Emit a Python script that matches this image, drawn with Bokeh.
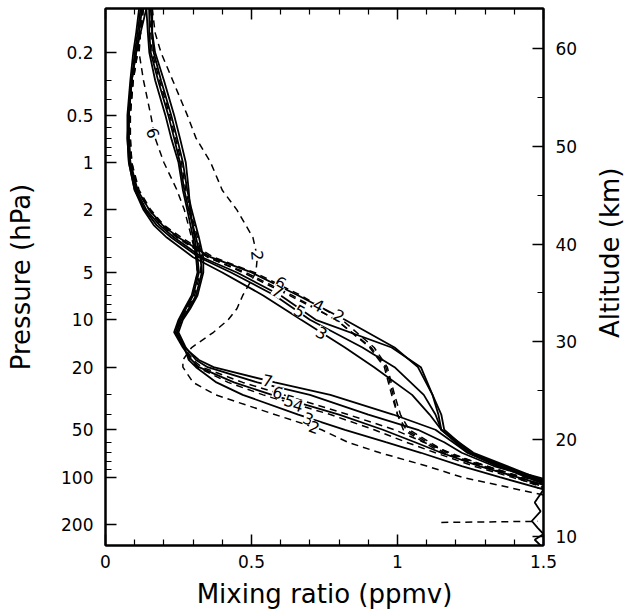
import math
from bokeh.plotting import figure
from bokeh.layouts import row
from bokeh.models import Range1d, LinearScale, LinearAxis, FixedTicker, CustomJSTickFormatter
from bokeh.core.properties import value
from bokeh.embed import file_html
from bokeh.resources import INLINE

# ---------------- data (mixing ratio in ppmv vs pressure in hPa) ----------------
H_KM = 7.0            # scale height used for the altitude axis
P0 = 1000.0
P_TOP, P_BOT = 0.105, 272.0
X_MIN, X_MAX = 0.0, 1.5

# group A: minimum near 1 hPa, steep rise between 2 and 20 hPa
P_A = [0.105, 0.15, 0.2, 0.3, 0.5, 0.7, 1.0, 1.5, 2.0, 2.5, 3.0, 4.0, 5.0, 7.0,
       10, 15, 20, 30, 40, 50, 70, 100, 150]
A1 = [0.115, 0.105, 0.095, 0.085, 0.075, 0.075, 0.08, 0.10, 0.135, 0.175, 0.225, 0.32, 0.43, 0.58,
      0.70, 0.88, 0.99, 1.09, 1.13, 1.15, 1.25, 1.46, 1.71]
A2 = [0.13, 0.12, 0.11, 0.095, 0.085, 0.085, 0.09, 0.11, 0.15, 0.19, 0.245, 0.35, 0.47, 0.63,
      0.79, 0.905, 0.955, 0.98, 1.00, 1.02, 1.15, 1.40, 1.66]
A3 = [0.14, 0.12, 0.105, 0.09, 0.08, 0.075, 0.08, 0.10, 0.13, 0.165, 0.21, 0.30, 0.40, 0.54,
      0.67, 0.82, 0.92, 1.05, 1.11, 1.15, 1.26, 1.47, 1.72]
A4 = [0.125, 0.115, 0.105, 0.09, 0.08, 0.08, 0.085, 0.11, 0.15, 0.195, 0.25, 0.35, 0.48, 0.64,
      0.79, 0.91, 0.96, 0.985, 1.00, 1.03, 1.16, 1.41, 1.67]
A5 = [0.125, 0.115, 0.105, 0.09, 0.08, 0.08, 0.085, 0.105, 0.14, 0.185, 0.235, 0.33, 0.45, 0.60,
      0.72, 0.98, 1.08, 1.12, 1.14, 1.15, 1.24, 1.44, 1.70]
A6 = [0.13, 0.12, 0.11, 0.095, 0.085, 0.085, 0.09, 0.115, 0.155, 0.20, 0.26, 0.37, 0.51, 0.67,
      0.81, 0.92, 0.965, 0.99, 1.01, 1.04, 1.17, 1.42, 1.68]
A7 = [0.12, 0.11, 0.10, 0.09, 0.08, 0.08, 0.085, 0.11, 0.15, 0.195, 0.25, 0.36, 0.50, 0.66,
      0.82, 0.99, 1.07, 1.12, 1.15, 1.16, 1.25, 1.45, 1.70]

# group B: minimum near 12 hPa, rise between 15 and 100 hPa
P_B = [0.105, 0.15, 0.2, 0.3, 0.5, 0.7, 1.0, 1.5, 2.0, 3.0, 4.0, 5.0, 7.0, 8.5, 10, 12,
       15, 18, 20, 25, 30, 40, 50, 60, 70, 85, 100, 130, 180]
B1 = [0.16, 0.16, 0.165, 0.19, 0.225, 0.245, 0.265, 0.28, 0.295, 0.32, 0.335, 0.335, 0.315, 0.29, 0.265, 0.25,
      0.275, 0.31, 0.35, 0.52, 0.70, 0.90, 1.07, 1.16, 1.22, 1.33, 1.46, 1.68, 1.9]
B2 = [0.16, 0.17, 0.19, 0.23, 0.28, 0.31, 0.36, 0.40, 0.45, 0.505, 0.52, 0.515, 0.47, 0.45, 0.42, 0.37,
      0.295, 0.265, 0.265, 0.30, 0.377, 0.58, 0.74, 0.83, 0.94, 1.10, 1.22, 1.5, 1.8]
B3 = [0.155, 0.16, 0.17, 0.20, 0.235, 0.255, 0.275, 0.285, 0.29, 0.305, 0.315, 0.32, 0.30, 0.275, 0.255, 0.24,
      0.27, 0.285, 0.31, 0.38, 0.47, 0.66, 0.82, 0.96, 1.08, 1.22, 1.35, 1.57, 1.85]
B4 = [0.15, 0.155, 0.16, 0.185, 0.22, 0.24, 0.26, 0.275, 0.29, 0.315, 0.33, 0.325, 0.305, 0.28, 0.255, 0.24,
      0.27, 0.29, 0.315, 0.42, 0.54, 0.77, 0.92, 1.03, 1.13, 1.26, 1.39, 1.6, 1.9]
B5 = [0.14, 0.145, 0.15, 0.17, 0.205, 0.225, 0.25, 0.265, 0.28, 0.30, 0.31, 0.315, 0.295, 0.27, 0.25, 0.235,
      0.265, 0.295, 0.32, 0.44, 0.57, 0.80, 0.95, 1.06, 1.15, 1.28, 1.41, 1.62, 1.9]
B6 = [0.125, 0.12, 0.115, 0.13, 0.155, 0.17, 0.20, 0.245, 0.27, 0.295, 0.31, 0.315, 0.30, 0.275, 0.255, 0.24,
      0.27, 0.30, 0.33, 0.47, 0.61, 0.83, 0.99, 1.09, 1.18, 1.30, 1.43, 1.65, 1.9]
B7 = [0.15, 0.15, 0.155, 0.18, 0.215, 0.235, 0.255, 0.27, 0.285, 0.31, 0.325, 0.33, 0.31, 0.285, 0.26, 0.245,
      0.27, 0.32, 0.37, 0.58, 0.77, 0.985, 1.13, 1.19, 1.24, 1.34, 1.48, 1.7, 1.9]

# near-surface fragments
EXTRA_X = [1.50, 1.47, 1.49, 1.46, 1.48, 1.50, 1.47, 1.49]
EXTRA_P = [120, 145, 165, 190, 210, 230, 250, 272]
FLAT_X = [1.15, 1.48]
FLAT_P = [194, 191]

# curve labels
LBL_TEXT = ["6", "7", "4", "2", "5", "3", "7", "6", "5", "4", "3", "2", "6", "2"]
LBL_X = [0.60, 0.59, 0.73, 0.80, 0.665, 0.74, 0.555, 0.59, 0.63, 0.66, 0.695, 0.715, 0.163, 0.52]
LBL_P = [5.8, 6.6, 8.1, 9.4, 8.8, 12.1, 24.3, 29.0, 32.7, 35.0, 42.4, 48.0, 0.65, 3.9]
LBL_ANGLE = [-30, -30, -28, -28, -30, -30, -13, -17, -18, -18, -20, -20, -72, -85]

X_TICKS = [0, 0.5, 1, 1.5]
X_MINOR = [0.1, 0.2, 0.3, 0.4, 0.6, 0.7, 0.8, 0.9, 1.1, 1.2, 1.3, 1.4]
P_TICKS = [0.2, 0.5, 1, 2, 5, 10, 20, 50, 100, 200]
P_MINOR = [0.3, 0.4, 0.6, 0.7, 0.8, 0.9, 3, 4, 6, 7, 8, 9, 30, 40, 60, 70, 80, 90]
Z_TICKS = [10, 20, 30, 40, 50, 60]
Z_MINOR = [15, 25, 35, 45, 55]

RIGHT_TITLE = "Altitude (km)"


def alt(p):
    return H_KM * math.log(P0 / p)


FONT = "DejaVu Sans"
MAIN_W, TITLE_W, H = 590, 34, 611

p = figure(width=MAIN_W, height=H, y_axis_type="log",
           x_range=Range1d(X_MIN, X_MAX), y_range=Range1d(P_BOT, P_TOP),
           output_backend="svg", toolbar_location=None,
           min_border_left=105, min_border_right=47, min_border_top=8, min_border_bottom=66)
p.extra_y_ranges = {"alt": Range1d(alt(P_BOT), alt(P_TOP))}
p.extra_y_scales = {"alt": LinearScale()}
p.xgrid.visible = False
p.ygrid.visible = False
p.outline_line_color = "black"
p.outline_line_width = 2
p.background_fill_color = "white"
p.border_fill_color = "white"

solid = dict(line_color="black", line_width=1.8)
dashed = dict(line_color="black", line_width=1.5, line_dash="7 5")

for xs in (A1, A3, A5, A7):
    p.line(xs, P_A, **solid)
for xs in (A2, A4, A6):
    p.line(xs, P_A, **dashed)
for xs in (B1, B3, B5, B7):
    p.line(xs, P_B, **solid)
for xs in (B2, B4, B6):
    p.line(xs, P_B, **dashed)
p.line(EXTRA_X, EXTRA_P, **solid)
p.line(FLAT_X, FLAT_P, **dashed)

p.text(x=LBL_X, y=LBL_P, text=LBL_TEXT, angle=LBL_ANGLE, angle_units="deg",
       text_font=value(FONT), text_font_size=value("16px"), text_color="black",
       text_align="center", text_baseline="middle",
       background_fill_color="white")

num_fmt = CustomJSTickFormatter(code="return String(tick);")
blank_fmt = CustomJSTickFormatter(code="return '';")


def style(ax, label_px="17px"):
    ax.axis_line_width = 2
    ax.axis_line_color = "black"
    ax.major_tick_in = 11
    ax.major_tick_out = 0
    ax.minor_tick_in = 6
    ax.minor_tick_out = 0
    ax.major_tick_line_width = 1.5
    ax.minor_tick_line_width = 1.2
    ax.major_label_text_font = FONT
    ax.major_label_text_font_size = label_px
    ax.major_label_text_color = "black"
    ax.axis_label_text_font = FONT
    ax.axis_label_text_font_size = "26px"
    ax.axis_label_text_font_style = "normal"
    ax.axis_label_text_color = "black"


# left (pressure)
ya = p.yaxis[0]
ya.ticker = FixedTicker(ticks=P_TICKS, minor_ticks=P_MINOR)
ya.formatter = num_fmt
ya.axis_label = "Pressure (hPa)"
style(ya)
ya.major_label_standoff = 12
ya.axis_label_standoff = 22

# bottom (mixing ratio)
xa = p.xaxis[0]
xa.ticker = FixedTicker(ticks=X_TICKS, minor_ticks=X_MINOR)
xa.formatter = num_fmt
xa.axis_label = "Mixing ratio (ppmv)"
style(xa)
xa.major_label_standoff = 9
xa.axis_label_standoff = 8

# top (ticks only)
top = LinearAxis(ticker=FixedTicker(ticks=X_TICKS, minor_ticks=X_MINOR), formatter=blank_fmt)
style(top, "0px")
top.major_label_standoff = 0
p.add_layout(top, "above")

# right (altitude) ticks
ra = LinearAxis(y_range_name="alt", ticker=FixedTicker(ticks=Z_TICKS, minor_ticks=Z_MINOR))
style(ra)
ra.major_label_standoff = 12
p.add_layout(ra, "right")

# narrow strip carrying the right-hand title, reading bottom-to-top like the reference
t = figure(width=TITLE_W, height=H, x_range=Range1d(0, 1), y_range=Range1d(0, 1),
           output_backend="svg", toolbar_location=None,
           x_axis_location=None, y_axis_location=None,
           min_border_left=0, min_border_right=0, min_border_top=0, min_border_bottom=0)
t.xgrid.visible = False
t.ygrid.visible = False
t.outline_line_color = None
t.background_fill_color = "white"
t.border_fill_color = "white"
t.text(x=[0.58], y=[1 - 278 / H], text=[RIGHT_TITLE], angle=90, angle_units="deg",
       text_font=value(FONT), text_font_size=value("26px"), text_color="black",
       text_align="center", text_baseline="middle")

layout = row(p, t, spacing=0)
open("out.html", "w").write(file_html(layout, INLINE))
